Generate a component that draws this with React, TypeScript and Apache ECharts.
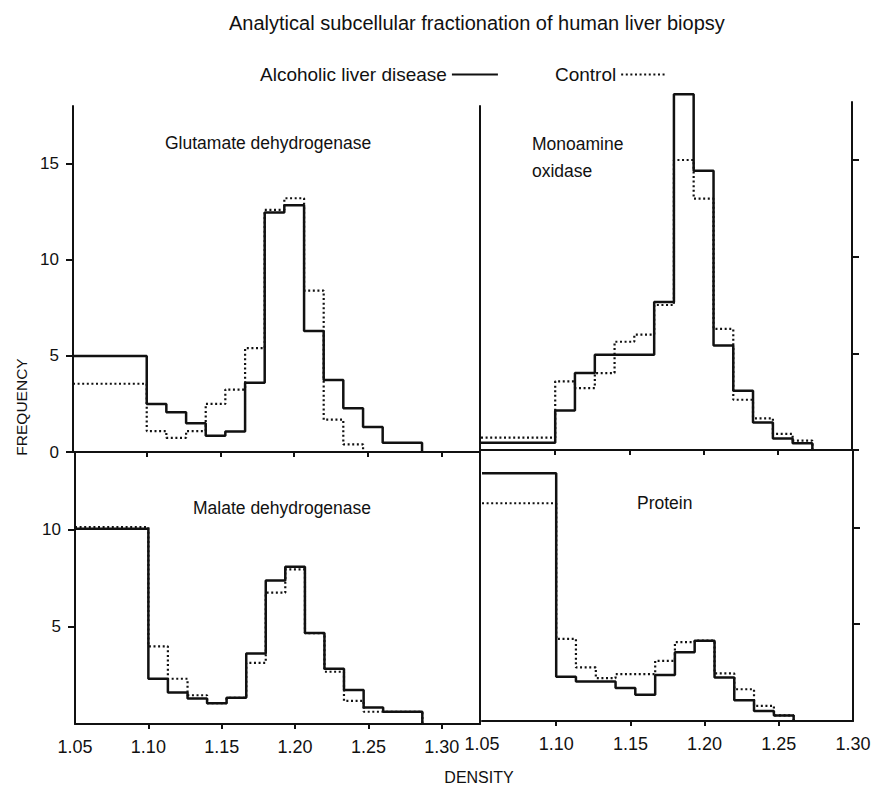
import React, { useEffect, useRef } from "react";
import * as echarts from "echarts";

const FONT = '"Liberation Sans", Arial, sans-serif';
const INK = "#111";

// Bin edges (density) shared by all four histograms
const binEdges = [1.05, 1.10, 1.1133, 1.1267, 1.14, 1.1533, 1.1667, 1.18, 1.1933, 1.2067, 1.22, 1.2333, 1.2467, 1.26, 1.2733, 1.2867];

// Frequencies per bin
const glutamateAlcoholic = [5.0, 2.5, 2.07, 1.5, 0.85, 1.07, 3.6, 12.46, 12.84, 6.3, 3.75, 2.28, 1.3, 0.48, 0.48];
const glutamateControl = [3.55, 1.09, 0.74, 1.09, 2.5, 3.25, 5.4, 12.6, 13.2, 8.4, 1.68, 0.4];
const maoAlcoholic = [0.38, 2.04, 3.98, 4.93, 4.93, 4.93, 7.65, 18.4, 14.45, 5.4, 3.06, 1.42, 0.6, 0.35];
const maoControl = [0.64, 3.55, 3.2, 3.98, 5.6, 5.97, 7.5, 15.0, 13.0, 6.26, 2.6, 1.64, 0.83, 0.48];
const malateAlcoholic = [10.05, 2.33, 1.62, 1.31, 1.07, 1.35, 3.63, 7.38, 8.09, 4.68, 2.85, 1.75, 0.85, 0.63, 0.63];
const malateControl = [10.14, 4.0, 2.33, 1.48, 1.07, 1.35, 3.15, 6.76, 7.96, 4.68, 2.69, 1.19, 0.63, 0.63, 0.63];
const proteinAlcoholic = [12.8, 2.28, 2.04, 2.04, 1.7, 1.35, 2.37, 3.55, 4.15, 2.25, 1.07, 0.52, 0.29];
const proteinControl = [11.25, 4.24, 2.77, 2.21, 2.42, 2.42, 3.11, 4.07, 4.15, 2.46, 1.64, 0.78, 0.29];

// Tick values
const xTickValues = [1.10, 1.15, 1.20, 1.25, 1.30];
const xTickValuesRight = [1.10, 1.15, 1.20, 1.25];
const xLabelValues = [1.05, 1.10, 1.15, 1.20, 1.25, 1.30];
const yTicksTop = [0, 5, 10, 15];
const yTicksBottom = [5, 10];

// Texts
const chartTitle = "Analytical subcellular fractionation of human liver biopsy";
const legendNames = ["Alcoholic liver disease", "Control"];
const panelTitles = ["Glutamate dehydrogenase", "Monoamine\noxidase", "Malate dehydrogenase", "Protein"];
const xAxisTitle = "DENSITY";
const yAxisTitle = "FREQUENCY";

function stepPoints(values: number[]): [number, number][] {
  const pts: [number, number][] = values.map((v, i) => [binEdges[i], v]);
  pts.push([binEdges[values.length], 0]);
  return pts;
}

const axisLine = { show: true, onZero: false, lineStyle: { color: INK, width: 2 } };

function makeX(gridIndex: number, max: number, ticks: number[], labels: number[] | null) {
  return {
    type: "value",
    gridIndex,
    min: 1.05,
    max,
    axisLine,
    axisTick: { show: true, customValues: ticks, length: 5, lineStyle: { color: INK, width: 2 } },
    axisLabel: labels
      ? {
          show: true,
          customValues: labels,
          formatter: (v: number) => v.toFixed(2),
          color: INK,
          fontSize: 18,
          fontFamily: FONT,
          margin: 14,
        }
      : { show: false },
    splitLine: { show: false },
  };
}

function makeY(gridIndex: number, max: number, position: string, ticks: number[], labels: number[] | null) {
  return {
    type: "value",
    gridIndex,
    min: 0,
    max,
    position,
    axisLine,
    axisTick: { show: true, customValues: ticks, length: 7, lineStyle: { color: INK, width: 2 } },
    axisLabel: labels
      ? { show: true, customValues: labels, color: INK, fontSize: 17, fontFamily: FONT, margin: 14 }
      : { show: false },
    splitLine: { show: false },
  };
}

function makeBorder(gridIndex: number, max: number, position: string) {
  return {
    type: "value",
    gridIndex,
    min: 0,
    max,
    position,
    axisLine,
    axisTick: { show: false },
    axisLabel: { show: false },
    splitLine: { show: false },
  };
}

export default function App() {
  const ref = useRef<HTMLDivElement>(null);

  useEffect(() => {
    if (!ref.current) return;
    const chart = echarts.init(ref.current, undefined, { renderer: "svg" });

    const panels = [
      { alc: glutamateAlcoholic, ctl: glutamateControl, x: 0, y: 0 },
      { alc: maoAlcoholic, ctl: maoControl, x: 1, y: 2 },
      { alc: malateAlcoholic, ctl: malateControl, x: 2, y: 3 },
      { alc: proteinAlcoholic, ctl: proteinControl, x: 3, y: 5 },
    ];

    const series: any[] = [];
    panels.forEach((p) => {
      series.push({
        type: "line",
        name: legendNames[1],
        xAxisIndex: p.x,
        yAxisIndex: p.y,
        data: stepPoints(p.ctl),
        step: "end",
        symbol: "none",
        clip: false,
        silent: true,
        z: 2,
        lineStyle: { color: INK, width: 2.2, type: [2, 2.6] },
        itemStyle: { color: INK },
      });
      series.push({
        type: "line",
        name: legendNames[0],
        xAxisIndex: p.x,
        yAxisIndex: p.y,
        data: stepPoints(p.alc),
        step: "end",
        symbol: "none",
        clip: false,
        silent: true,
        z: 3,
        lineStyle: { color: INK, width: 2.5, type: "solid" },
        itemStyle: { color: INK },
      });
    });

    const textStyle = (size: number) => ({ fill: INK, fontSize: size, fontFamily: FONT });

    chart.setOption({
      animation: false,
      backgroundColor: "#fff",
      grid: [
        { left: 73, top: 106, width: 407, height: 346 },
        { left: 481, top: 102, width: 371, height: 348 },
        { left: 75, top: 452, width: 405, height: 272 },
        { left: 482, top: 450, width: 371, height: 271 },
      ],
      xAxis: [
        makeX(0, 1.326, xTickValues, null),
        makeX(1, 1.30, xTickValuesRight, null),
        makeX(2, 1.326, xTickValues, xLabelValues),
        makeX(3, 1.30, xTickValuesRight, xLabelValues),
      ],
      yAxis: [
        makeY(0, 18, "left", yTicksTop, yTicksTop),
        makeBorder(0, 18, "right"),
        makeY(1, 18, "right", yTicksTop, null),
        makeY(2, 14, "left", yTicksBottom, yTicksBottom),
        makeBorder(2, 14, "right"),
        makeY(3, 14, "right", yTicksBottom, null),
      ],
      legend: {
        data: legendNames,
        left: 260,
        top: 65,
        padding: 0,
        align: "right",
        itemWidth: 46,
        itemHeight: 16,
        itemGap: 56,
        selectedMode: false,
        itemStyle: { opacity: 0, borderWidth: 0 },
        textStyle: { color: INK, fontSize: 19, fontFamily: FONT },
      },
      graphic: [
        { type: "text", x: 229, y: 23, style: { ...textStyle(20), text: chartTitle, textAlign: "left", textVerticalAlign: "middle" } },
        { type: "text", x: 165, y: 143, style: { ...textStyle(17.5), text: panelTitles[0], textAlign: "left", textVerticalAlign: "middle" } },
        { type: "text", x: 532, y: 157, style: { ...textStyle(17.5), text: panelTitles[1], lineHeight: 27, textAlign: "left", textVerticalAlign: "middle" } },
        { type: "text", x: 193, y: 508, style: { ...textStyle(17.5), text: panelTitles[2], textAlign: "left", textVerticalAlign: "middle" } },
        { type: "text", x: 637, y: 503, style: { ...textStyle(17.5), text: panelTitles[3], textAlign: "left", textVerticalAlign: "middle" } },
        { type: "text", x: 479, y: 777, style: { ...textStyle(16), text: xAxisTitle, textAlign: "center", textVerticalAlign: "middle" } },
        { type: "text", x: 21, y: 407, rotation: Math.PI / 2, style: { ...textStyle(15.5), text: yAxisTitle, textAlign: "center", textVerticalAlign: "middle" } },
      ],
      series,
    });

    return () => chart.dispose();
  }, []);

  return <div ref={ref} style={{ position: "absolute", left: 0, top: 0, width: 874, height: 787 }} />;
}
